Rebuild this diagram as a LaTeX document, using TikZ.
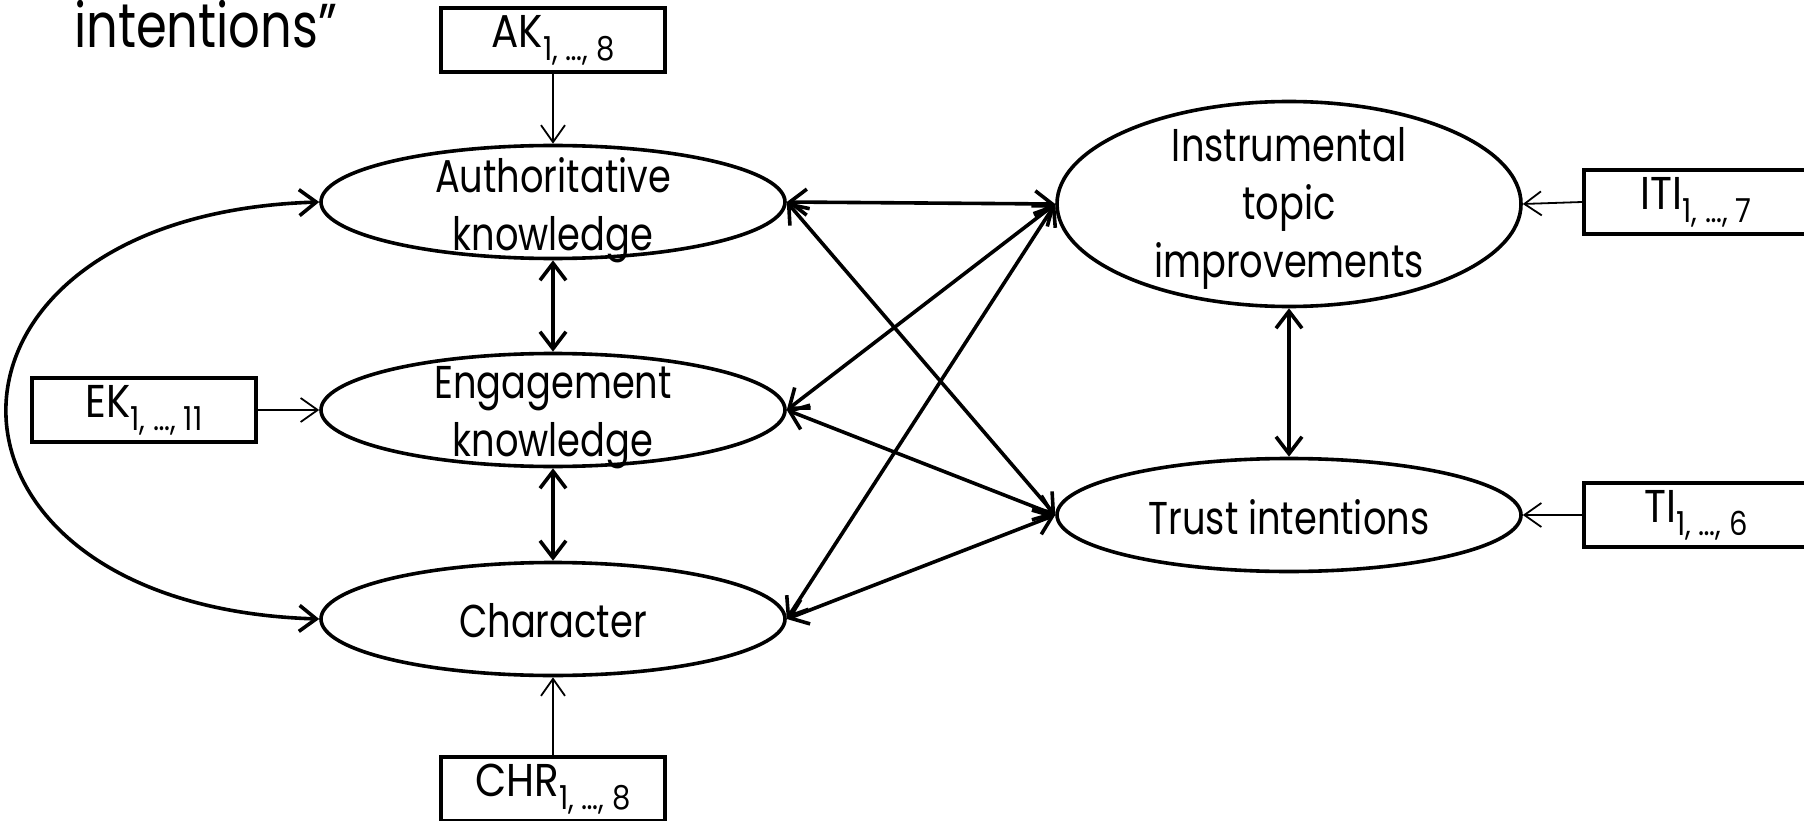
\documentclass[tikz,border=0pt]{standalone}
\usepackage{fontspec}
\setmainfont{Poppins}[FakeStretch=0.8]
\newfontfamily\boxfont{Poppins}[FakeStretch=0.88]
\usetikzlibrary{shapes.geometric,arrows.meta}
\newcommand{\sbs}[1]{\raisebox{-13pt}{\fontsize{33}{33}\selectfont #1}}
\begin{document}
\begin{tikzpicture}[x=1pt,y=-1pt,
  lat/.style={draw, line width=3.6pt, ellipse, minimum width=464pt, minimum height=113pt, inner sep=0pt},
  lbl/.style={align=center, font=\fontsize{46}{58}\selectfont, inner sep=0pt},
  ind/.style={draw, line width=4pt, rectangle, minimum width=224pt, minimum height=64pt, inner sep=0pt, font=\boxfont\fontsize{46}{50}\selectfont},
  cov/.style={line width=3.6pt, {Straight Barb[length=17pt,width=26pt]}-{Straight Barb[length=17pt,width=26pt]}},
  load/.style={line width=1.8pt, -{Straight Barb[length=17pt,width=24pt]}}
]
\useasboundingbox (0,0) rectangle (1804,821);
\begin{scope}
\clip (0,0) rectangle (1804,821);
% title fragment
\node[anchor=base west, inner sep=0pt, font=\fontsize{62}{70}\selectfont] (title) at (74,48) {intentions”};
% latent variables
\node[lat, label={[lbl, yshift=-8pt]center:Authoritative\\knowledge}] (AK) at (553,202) {};
\node[lat, label={[lbl, yshift=-8pt]center:Engagement\\knowledge}] (EK) at (553,410) {};
\node[lat, label={[lbl, yshift=-2pt]center:Character}] (CH) at (553,619) {};
\node[lat, minimum height=205pt, label={[lbl, yshift=-4pt]center:Instrumental\\topic\\improvements}] (ITI) at (1289,204) {};
\node[lat, label={[lbl, yshift=-2pt]center:Trust intentions}] (TI) at (1289,515) {};
% indicator boxes
\node[ind] (AKb) at (553,40) {AK\sbs{1, …, 8}};
\node[ind] (EKb) at (144,410) {EK\sbs{1, …, 11}};
\node[ind] (CHb) at (553,789) {CHR\sbs{1, …, 8}};
\node[ind] (ITIb) at (1696,202) {ITI\sbs{1, …, 7}};
\node[ind] (TIb) at (1696,515) {TI\sbs{1, …, 6}};
% loadings
\draw[load] (AKb.south) -- (AK.north);
\draw[load] (EKb.east) -- (EK.west);
\draw[load] (CHb.north) -- (CH.south);
\draw[load] (ITIb.west) -- (ITI.east);
\draw[load] (TIb.west) -- (TI.east);
% covariances
\draw[cov] (AK.south) -- (EK.north);
\draw[cov] (EK.south) -- (CH.north);
\draw[cov] (ITI.south) -- (TI.north);
\draw[cov] (AK.east) -- (ITI.west);
\draw[cov] (AK.east) -- (TI.west);
\draw[cov] (EK.east) -- (ITI.west);
\draw[cov] (EK.east) -- (TI.west);
\draw[cov] (CH.east) -- (ITI.west);
\draw[cov] (CH.east) -- (TI.west);
\draw[cov] (AK.west) .. controls (-97,215) and (-97,606) .. (CH.west);
\end{scope}
\end{tikzpicture}
\end{document}
